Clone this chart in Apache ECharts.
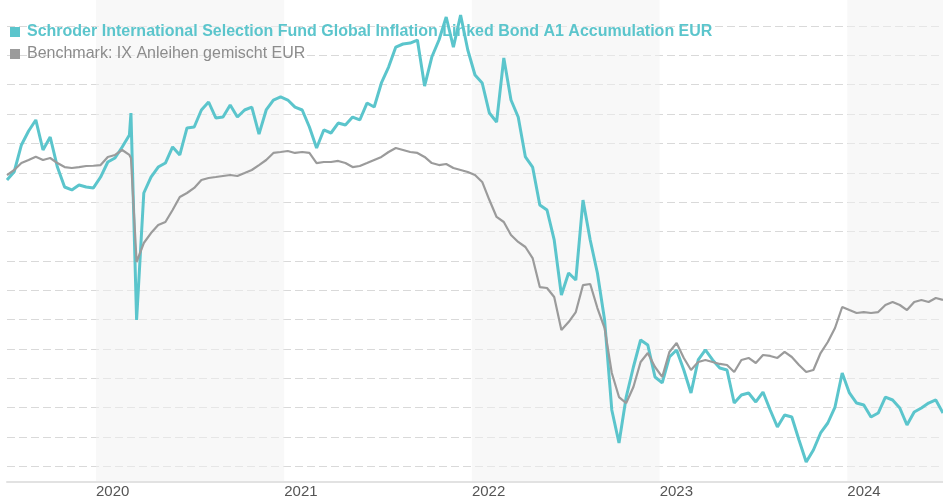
<!DOCTYPE html>
<html>
<head>
<meta charset="utf-8">
<title>Schroder ISF Global Inflation Linked Bond A1 Acc EUR</title>
<script src="https://cdn.jsdelivr.net/npm/echarts@6/dist/echarts.min.js"></script>
<style>
  html, body { margin: 0; padding: 0; background: #fff; }
  #chart { width: 943px; height: 500px; }
</style>
</head>
<body>
<div id="chart"></div>
<script>
// fortnightly closes, indexed to 100 at start
const dates = [
  '2019-07-12','2019-07-26','2019-08-09','2019-08-23','2019-09-06','2019-09-20','2019-10-04','2019-10-18','2019-11-01','2019-11-15','2019-11-29','2019-12-13','2019-12-27',
  '2020-01-10','2020-01-24','2020-02-07','2020-02-21','2020-03-06','2020-03-09','2020-03-20','2020-04-03','2020-04-17','2020-05-01','2020-05-15','2020-05-29','2020-06-12','2020-06-26','2020-07-10','2020-07-24','2020-08-07','2020-08-21','2020-09-04','2020-09-18','2020-10-02','2020-10-16','2020-10-30','2020-11-13','2020-11-27','2020-12-11','2020-12-25',
  '2021-01-08','2021-01-22','2021-02-05','2021-02-19','2021-03-05','2021-03-19','2021-04-02','2021-04-16','2021-04-30','2021-05-14','2021-05-28','2021-06-11','2021-06-25','2021-07-09','2021-07-23','2021-08-06','2021-08-20','2021-09-03','2021-09-17','2021-10-01','2021-10-15','2021-10-29','2021-11-12','2021-11-26','2021-12-10','2021-12-24',
  '2022-01-07','2022-01-21','2022-02-04','2022-02-18','2022-03-04','2022-03-18','2022-04-01','2022-04-15','2022-04-29','2022-05-13','2022-05-27','2022-06-10','2022-06-24','2022-07-08','2022-07-22','2022-08-05','2022-08-19','2022-09-02','2022-09-16','2022-09-30','2022-10-14','2022-10-28','2022-11-11','2022-11-25','2022-12-09','2022-12-23',
  '2023-01-06','2023-01-20','2023-02-03','2023-02-17','2023-03-03','2023-03-17','2023-03-31','2023-04-14','2023-04-28','2023-05-12','2023-05-26','2023-06-09','2023-06-23','2023-07-07','2023-07-21','2023-08-04','2023-08-18','2023-09-01','2023-09-15','2023-09-29','2023-10-13','2023-10-27','2023-11-10','2023-11-24','2023-12-08','2023-12-22',
  '2024-01-05','2024-01-19','2024-02-02','2024-02-16','2024-03-01','2024-03-15','2024-03-29','2024-04-12','2024-04-26','2024-05-10','2024-05-24','2024-06-07','2024-06-21','2024-07-05'
];

const fundValues = [
  99.39, 100.09, 102.37, 103.56, 104.50, 101.94, 103.05, 100.49, 98.79, 98.54, 98.96, 98.79, 98.71,
  99.64, 100.92, 101.26, 102.20, 103.22, 105.09, 87.46, 98.28, 99.64, 100.49, 100.83, 102.20, 101.52, 103.82, 103.90, 105.35, 106.03, 104.67, 104.75, 105.77, 104.75, 105.35, 105.60, 103.30, 105.35, 106.20, 106.46,
  106.20, 105.60, 105.35, 103.90, 102.11, 103.65, 103.39, 104.24, 104.07, 104.75, 104.50, 105.94, 105.60, 107.65, 109.01, 110.71, 110.97, 111.05, 111.31, 107.39, 109.86, 111.31, 113.27, 110.71, 113.44, 110.46,
  108.33, 107.65, 105.09, 104.33, 109.78, 106.20, 104.75, 101.35, 100.49, 97.26, 96.83, 94.28, 89.59, 91.47, 90.87, 97.68, 94.28, 91.47, 87.46, 79.80, 76.99, 80.90, 83.46, 85.76, 85.33, 82.61,
  82.10, 84.31, 84.91, 83.20, 81.25, 84.06, 84.91, 84.06, 83.37, 83.20, 80.39, 81.07, 81.25, 80.48, 81.33, 79.80, 78.35, 79.37, 79.20, 77.24, 75.37, 76.39, 77.84, 78.69, 80.05, 82.95,
  81.25, 80.39, 80.22, 79.20, 79.54, 80.90, 80.65, 79.97, 78.52, 79.63, 79.97, 80.39, 80.65, 79.54
];

const benchmarkValues = [
  99.81, 100.24, 100.83, 101.09, 101.37, 101.09, 101.26, 100.83, 100.49, 100.41, 100.49, 100.58, 100.60,
  100.66, 101.35, 101.52, 101.94, 101.52, 101.26, 92.40, 94.02, 94.87, 95.55, 95.81, 96.83, 97.94, 98.28, 98.71, 99.39, 99.56, 99.64, 99.73, 99.81, 99.73, 99.98, 100.24, 100.66, 101.09, 101.69, 101.77,
  101.86, 101.69, 101.77, 101.69, 100.83, 100.92, 100.92, 101.01, 100.83, 100.49, 100.58, 100.83, 101.09, 101.35, 101.77, 102.11, 101.94, 101.77, 101.69, 101.35, 100.83, 100.66, 100.75, 100.41, 100.24, 100.07,
  99.81, 99.22, 97.68, 96.24, 95.81, 94.70, 94.11, 93.68, 92.74, 90.27, 90.19, 89.42, 86.61, 87.29, 88.14, 90.44, 90.53, 88.48, 86.78, 82.95, 80.90, 80.39, 81.76, 83.89, 84.65, 83.46,
  82.61, 84.74, 85.50, 84.23, 83.20, 83.89, 84.06, 83.89, 83.72, 83.63, 83.03, 84.06, 84.23, 83.80, 84.48, 84.40, 84.23, 84.74, 84.31, 83.63, 83.03, 83.20, 84.65, 85.59, 86.78, 88.57,
  88.31, 88.06, 88.14, 88.06, 88.14, 88.74, 89.00, 88.74, 88.31, 89.00, 89.17, 89.00, 89.34, 89.17
];

const fundName = 'Schroder International Selection Fund Global Inflation Linked Bond A1 Accumulation EUR';
const benchmarkName = 'Benchmark: IX Anleihen gemischt EUR';

// value range of the plot area and spacing of the dashed grid
const yMin = 73.665;
const yMax = 114.718;
const yStep = 2.5;

const fundColor = '#5bc5cc';
const benchColor = '#9b9b9b';

const chart = echarts.init(document.getElementById('chart'));

chart.setOption({
  animation: false,
  backgroundColor: '#ffffff',
  textStyle: { fontFamily: '"Liberation Sans", Arial, sans-serif' },
  legend: {
    orient: 'vertical',
    left: 5,
    top: 19,
    itemGap: 6,
    itemWidth: 10,
    itemHeight: 10,
    icon: 'rect',
    selectedMode: false,
    data: [
      { name: fundName, textStyle: { color: fundColor, fontWeight: 'bold', fontSize: 16, padding: [0, 0, 0, 2] } },
      { name: benchmarkName, textStyle: { color: '#8c8c8c', fontSize: 16, padding: [0, 0, 0, 2] } }
    ]
  },
  grid: { left: 7, right: 0, top: 0, bottom: 18 },
  xAxis: {
    type: 'time',
    min: dates[0],
    max: dates[dates.length - 1],
    axisLine: { lineStyle: { color: '#e2e2e2', width: 2 } },
    axisTick: { show: false },
    axisLabel: {
      formatter: function (v) { return String(new Date(v).getFullYear()); },
      align: 'left',
      color: '#555',
      fontSize: 15,
      margin: 2,
      showMinLabel: false,
      showMaxLabel: false
    },
    splitLine: { show: false },
    // translucent so the dashed grid still shows faintly through the year bands
    splitArea: { show: true, areaStyle: { color: ['rgba(255,255,255,0)', 'rgba(242,242,242,0.53)'] } }
  },
  yAxis: {
    type: 'value',
    min: yMin,
    max: yMax,
    minInterval: yStep,
    maxInterval: yStep,
    axisLine: { show: false },
    axisTick: { show: false },
    axisLabel: { show: false },
    splitLine: {
      show: true,
      showMinLine: false,
      showMaxLine: false,
      lineStyle: { color: '#d9d9d9', type: [8, 4], width: 1 }
    }
  },
  series: [
    {
      name: fundName,
      type: 'line',
      showSymbol: false,
      color: fundColor,
      lineStyle: { width: 3, color: fundColor },
      data: dates.map((d, i) => [d, fundValues[i]])
    },
    {
      name: benchmarkName,
      type: 'line',
      showSymbol: false,
      color: benchColor,
      lineStyle: { width: 2.2, color: benchColor },
      data: dates.map((d, i) => [d, benchmarkValues[i]])
    }
  ]
});
</script>
</body>
</html>
